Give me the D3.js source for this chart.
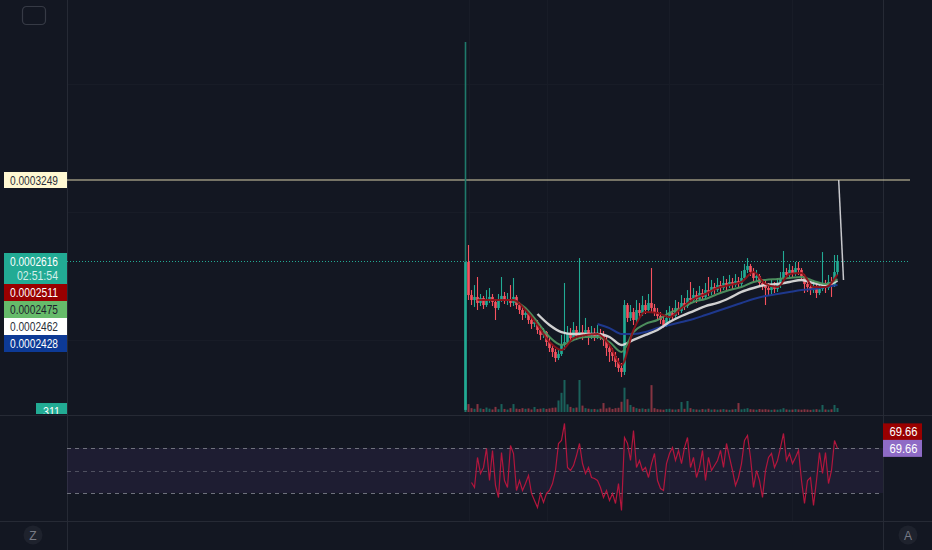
<!DOCTYPE html>
<html><head><meta charset="utf-8">
<script src="https://cdn.jsdelivr.net/npm/d3@7"></script>
<style>html,body{margin:0;padding:0;background:#131722;overflow:hidden}
text{font-family:"Liberation Sans Narrow","Arial Narrow","Liberation Sans",Roboto,sans-serif;}</style>
</head><body>
<svg id="c" width="932" height="550"></svg>
<script>
// Prices are in units of 0.0000001 (e.g. 2616 = 0.0002616)
const UNIT = 1e-7;
const firstOpen = 1452;
const closes = [
2608,2350,2311,2335,2288,2327,2272,2311,2335,2296,
2249,2311,2343,2303,2319,2288,2335,2272,2233,2194,
2210,2155,2124,2139,2077,2038,2061,1983,1936,1905,
1858,1889,1960,1983,2053,2014,2077,2030,2061,2038,
2077,2030,2053,2022,2053,2030,1999,1936,1905,1874,
1827,1780,1749,2272,2171,2217,2155,2233,2210,2272,
2233,2288,2249,2217,2186,2155,2116,2171,2210,2186,
2249,2225,2288,2264,2327,2311,2350,2319,2366,2335,
2389,2374,2413,2389,2428,2405,2444,2421,2452,2428,
2460,2436,2483,2546,2577,2530,2483,2499,2444,2428,
2405,2389,2421,2397,2428,2483,2530,2507,2546,2522,
2561,2546,2499,2436,2413,2389,2421,2366,2397,2436,
2405,2452,2428,2530,2616];
const highs = [
4327,2741,2389,2428,2491,2358,2343,2389,2405,2358,
2319,2358,2491,2374,2366,2428,2483,2350,2296,2264,
2249,2225,2186,2171,2155,2108,2092,2069,2014,1967,
1928,1921,2038,2444,2108,2092,2139,2108,2639,2116,
2171,2100,2108,2092,2116,2085,2069,2030,1967,1936,
1905,1858,1819,2311,2288,2272,2249,2311,2288,2343,
2311,2358,2561,2280,2249,2217,2186,2233,2264,2249,
2311,2296,2350,2327,2389,2452,2405,2382,2421,2397,
2444,2491,2468,2444,2483,2460,2499,2475,2507,2483,
2514,2491,2538,2593,2639,2593,2561,2546,2514,2475,
2460,2444,2468,2452,2483,2530,2694,2561,2593,2577,
2608,2608,2561,2514,2468,2452,2468,2436,2444,2686,
2468,2507,2491,2663,2663];
const lows = [
1436,2311,2272,2257,2233,2264,2241,2257,2288,2264,
2155,2233,2296,2280,2272,2257,2264,2241,2202,2155,
2171,2124,2085,2100,2046,1999,2014,1952,1905,1866,
1827,1842,1874,1921,1960,1983,1999,1999,2014,1999,
2022,1960,2006,1991,2006,1999,1952,1874,1827,1835,
1788,1749,1709,1725,2139,2147,2116,2131,2171,2186,
2202,2210,2217,2186,2155,2124,2092,2100,2147,2155,
2171,2194,2210,2233,2249,2280,2296,2288,2303,2311,
2319,2343,2350,2358,2374,2374,2389,2389,2405,2397,
2413,2405,2421,2468,2522,2499,2452,2460,2413,2389,
2272,2343,2358,2366,2374,2405,2468,2475,2483,2491,
2499,2507,2468,2366,2374,2350,2366,2327,2350,2382,
2366,2389,2335,2413,2507];
const volumes = [
2500,620,300,250,620,280,230,350,260,200,
400,220,620,240,190,300,620,260,230,300,
250,280,200,390,230,260,300,240,280,330,
350,900,1500,2500,600,400,300,350,2500,500,
300,260,220,240,200,260,700,280,350,240,
300,330,800,1900,1000,550,400,300,250,280,
230,260,2100,300,220,200,180,230,250,200,
190,220,780,250,860,300,220,200,180,230,
200,260,190,210,180,200,230,190,170,200,
230,700,210,250,300,220,200,180,230,200,
220,190,170,200,180,210,300,200,180,190,
220,200,180,210,190,170,200,220,190,550,
200,180,210,550,311];
// moving averages sampled at these candle indices
const maIndex = [0,4,8,12,16,20,24,28,32,36,40,44,48,52,56,60,64,68,72,76,80,84,88,92,96,100,104,108,112,116,120,124];
const maRed   = [null,2311,2311,2311,2311,2233,2116,1983,1921,2014,2038,2046,1960,1803,2077,2217,2210,2178,2249,2319,2358,2405,2428,2452,2530,2436,2413,2514,2522,2413,2413,2511];
const maGreen = [null,null,null,null,2311,2249,2139,2022,1960,1999,2022,2022,1983,1905,2061,2124,2155,2210,2249,2296,2319,2358,2389,2413,2452,2468,2475,2483,2491,2460,2436,2475];
const maWhite = [null,null,null,null,null,null,2202,2116,2061,2046,2046,2046,2022,1960,1999,2038,2077,2139,2186,2225,2264,2288,2327,2374,2405,2428,2436,2452,2468,2444,2428,2462];
const maBlue  = [null,null,null,null,null,null,null,null,null,null,null,2124,2092,2046,2046,2061,2092,2116,2139,2163,2194,2225,2257,2288,2319,2343,2358,2374,2389,2397,2413,2428];
const rsi = [null,null,
39.3,34.9,61.6,47.3,52.7,69.6,41.1,67.8,36.7,26.0,66.0,41.1,34.9,72.2,65.1,32.2,41.1,32.2,
38.4,45.6,29.6,23.3,17.1,29.6,21.6,29.6,32.2,38.4,50.0,74.0,76.7,91.8,52.7,50.0,54.4,63.3,
74.0,56.2,47.3,52.7,43.8,42.9,41.1,34.9,26.0,32.2,23.3,29.6,20.7,38.4,14.4,79.3,74.0,58.9,
85.6,52.7,58.9,50.0,52.7,43.8,56.2,65.1,41.1,34.0,32.2,56.2,65.1,70.4,58.9,67.8,56.2,70.4,
79.3,52.7,61.6,43.8,52.7,67.8,41.1,61.6,50.0,54.4,58.9,67.8,52.7,74.0,61.6,50.0,36.7,43.8,
56.2,76.7,81.1,61.6,34.9,50.0,41.1,26.0,50.0,61.6,65.1,52.7,58.9,70.4,82.9,58.9,65.1,56.2,
61.6,67.8,41.1,20.7,41.1,43.8,18.9,41.1,66.0,47.3,66.0,38.4,50.0,76.7,69.66];
const markerPrice = 3249;
const lastPrice = 2616;
const countdown = "02:51:54";
const maLabelValues = [2511, 2475, 2462, 2428];
const rsiLevels = [70, 50, 30];
const rsiLabels = ["69.66", "69.66"];
const rsiLast = 69.66;
const volLast = 311;
const trendIdx = [124.4, 126];
const trendPrice = [3249, 2468];
const timeGridIdx = [1, 27, 67.7, 108.7];
const priceGrid = [4000, 3000, 2000];

const svg = d3.select("#c");
const W = 932, H = 550;
const bg = "#131722", sep = "#262a35";
const up = "#22ab94", dn = "#f7525f";
const fmt = v => (v * UNIT).toFixed(7);

svg.append("rect").attr("width", W).attr("height", H).attr("fill", bg);

const x = d3.scaleLinear().domain([0, 124]).range([465.5, 837.5]);
const y = d3.scaleLinear().domain([lastPrice, markerPrice]).range([261, 180]);
const vy = d3.scaleLinear().domain([0, 2500]).range([412, 380]);
const ry = d3.scaleLinear().domain([30, 70]).range([493, 448]);

// grid
const grid = svg.append("g").attr("stroke", "#181c27").attr("stroke-width", 1);
timeGridIdx.forEach(t => grid.append("line").attr("x1", Math.round(x(t)) + 0.5).attr("x2", Math.round(x(t)) + 0.5).attr("y1", 0).attr("y2", 521));
priceGrid.forEach(p => grid.append("line").attr("x1", 67).attr("x2", 883).attr("y1", Math.round(y(p)) + 0.5).attr("y2", Math.round(y(p)) + 0.5));

// separators
svg.append("line").attr("x1", 67.5).attr("x2", 67.5).attr("y1", 0).attr("y2", H).attr("stroke", sep);
svg.append("line").attr("x1", 883.5).attr("x2", 883.5).attr("y1", 0).attr("y2", H).attr("stroke", sep);
svg.append("line").attr("x1", 0).attr("x2", W).attr("y1", 415.5).attr("y2", 415.5).attr("stroke", sep);
svg.append("line").attr("x1", 0).attr("x2", W).attr("y1", 521.5).attr("y2", 521.5).attr("stroke", sep);

// top-left button
svg.append("rect").attr("x", 22.5).attr("y", 6.5).attr("width", 23).attr("height", 18).attr("rx", 4)
  .attr("fill", "none").attr("stroke", "#363a45").attr("stroke-width", 1.2);

const opens = closes.map((c, i) => i === 0 ? firstOpen : closes[i - 1]);
const idx = d3.range(closes.length);

// volume
svg.append("g").selectAll("rect").data(idx).join("rect")
  .attr("x", i => x(i) - 1).attr("width", 2)
  .attr("y", i => vy(volumes[i])).attr("height", i => vy(0) - vy(volumes[i]))
  .attr("fill", i => closes[i] >= opens[i] ? up : dn).attr("opacity", 0.5);

// marker horizontal line
svg.append("line").attr("x1", 67).attr("x2", 910).attr("y1", y(markerPrice)).attr("y2", y(markerPrice))
  .attr("stroke", "#d9d2aa").attr("stroke-width", 1.2);
// last price dotted
svg.append("line").attr("x1", 67).attr("x2", 910).attr("y1", y(lastPrice) + 0.5).attr("y2", y(lastPrice) + 0.5)
  .attr("stroke", up).attr("stroke-dasharray", "1,2");

// candles
const cg = svg.append("g");
cg.selectAll("line.w").data(idx).join("line").attr("class", "w")
  .attr("x1", i => x(i)).attr("x2", i => x(i))
  .attr("y1", i => y(highs[i])).attr("y2", i => y(lows[i]))
  .attr("stroke", i => i === 0 ? "#1f7a6c" : (closes[i] >= opens[i] ? up : dn))
  .attr("stroke-width", i => i === 0 ? 1.6 : 1.1);
cg.selectAll("rect.b").data(idx).join("rect").attr("class", "b")
  .attr("x", i => x(i) - 1.3).attr("width", 2.6)
  .attr("y", i => y(Math.max(opens[i], closes[i])))
  .attr("height", i => Math.max(1, Math.abs(y(opens[i]) - y(closes[i]))))
  .attr("fill", i => closes[i] >= opens[i] ? up : dn);

// moving averages
const maLine = d3.line().defined(d => d[1] != null).x(d => x(d[0])).y(d => y(d[1])).curve(d3.curveMonotoneX);
[[maBlue, "#1f3a93", 2], [maWhite, "#dadada", 2.4], [maGreen, "#4f9460", 2], [maRed, "#8a1118", 2]].forEach(([arr, col, sw]) => {
  svg.append("path").attr("d", maLine(maIndex.map((k, j) => [k, arr[j]])))
    .attr("fill", "none").attr("stroke", col).attr("stroke-width", sw).attr("opacity", 0.95);
});

// trend line drawing
svg.append("line").attr("x1", x(trendIdx[0])).attr("y1", y(trendPrice[0]))
  .attr("x2", x(trendIdx[1])).attr("y2", y(trendPrice[1]))
  .attr("stroke", "#c8c9cd").attr("stroke-width", 1.5);

// RSI pane
svg.append("rect").attr("x", 67).attr("width", 816).attr("y", ry(70)).attr("height", ry(30) - ry(70))
  .attr("fill", "#7e57c2").attr("opacity", 0.1);
rsiLevels.forEach(l => svg.append("line").attr("x1", 67).attr("x2", 883)
  .attr("y1", Math.round(ry(l)) + 0.5).attr("y2", Math.round(ry(l)) + 0.5)
  .attr("stroke", "#787b86").attr("stroke-dasharray", "4,4").attr("stroke-width", 1)
  .attr("opacity", l === 50 ? 0.55 : 0.9));
const rsiLine = d3.line().defined(d => d != null).x((d, i) => x(i)).y(d => ry(d));
svg.append("path").attr("d", rsiLine(rsi)).attr("fill", "none").attr("stroke", "#b3163d").attr("stroke-width", 1.2);

// fitted text helper
function fitText(g, tx, ty, t, w, col, anchor, size) {
  return g.append("text").attr("x", tx).attr("y", ty).attr("text-anchor", anchor)
    .attr("font-size", size).attr("fill", col)
    .attr("textLength", w).attr("lengthAdjust", "spacingAndGlyphs").text(t);
}

// left price labels
const lab = svg.append("g");
function label(yTop, h, fill, col, lines) {
  lab.append("rect").attr("x", 4).attr("y", yTop).attr("width", 63).attr("height", h).attr("fill", fill);
  lines.forEach((t, k) => fitText(lab, 58, yTop + 12.8 + k * 14, t, k === 0 ? 48 : 41,
    k === 0 ? col : "#d4efea", "end", 13));
}
label(y(markerPrice) - 8, 16, "#fff8d2", "#2a2e39", [fmt(markerPrice)]);
const tTop = y(lastPrice) - 8;
label(tTop, 31, up, "#ffffff", [fmt(lastPrice), countdown]);
const maFills = ["#990000", "#66bb6a", "#ffffff", "#0d3a96"];
const maTextCols = ["#ffffff", "#1e222d", "#2a2e39", "#ffffff"];
maLabelValues.forEach((v, k) => label(tTop + 31 + k * 17, 17, maFills[k], maTextCols[k], [fmt(v)]));

// volume label (clipped by pane)
svg.append("clipPath").attr("id", "vc").append("rect").attr("x", 0).attr("y", 0).attr("width", 70).attr("height", 414);
const vl = svg.append("g").attr("clip-path", "url(#vc)");
vl.append("rect").attr("x", 36).attr("y", vy(volLast) - 5).attr("width", 31).attr("height", 14).attr("fill", up);
fitText(vl, 51.5, vy(volLast) + 8, String(volLast), 17, "#ffffff", "middle", 13);

// RSI labels
const rFills = ["#990000", "#8e6bc6"];
const rTop = ry(rsiLast) - 8.5;
rsiLabels.forEach((t, k) => {
  const top = rTop - (1 - k) * 16.5;
  svg.append("rect").attr("x", 883).attr("y", top).attr("width", 39).attr("height", 17).attr("fill", rFills[k]);
  fitText(svg, 903.5, top + 13, t, 28, "#ffffff", "middle", 13.5);
});

// bottom buttons
[[33, "Z"], [908, "A"]].forEach(([cx, t]) => {
  svg.append("circle").attr("cx", cx).attr("cy", 535).attr("r", 9.5).attr("fill", "#1e222d");
  svg.append("text").attr("x", cx).attr("y", 539.5).attr("text-anchor", "middle")
    .attr("font-size", 12).attr("fill", "#787b86").text(t);
});
</script>
</body></html>
